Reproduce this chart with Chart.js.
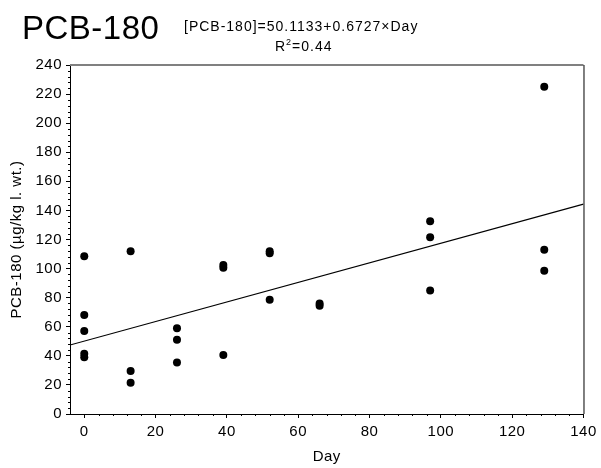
<!DOCTYPE html>
<html>
<head>
<meta charset="utf-8">
<title>PCB-180</title>
<script src="https://cdn.jsdelivr.net/npm/chart.js@4.4.1/dist/chart.umd.min.js"></script>
<style>
    html, body { margin: 0; padding: 0; background: #fff; }
    #chart { display: block; }
</style>
</head>
<body>
<canvas id="chart" width="601" height="468"></canvas>
<script>
"use strict";

/* data */
var days = [0, 0, 0, 0, 0, 13, 13, 13, 26, 26, 26, 39, 39, 39, 52, 52, 52, 66, 66, 97, 97, 97, 129, 129, 129];
var pcb180 = [108.5, 68, 57, 41.5, 39, 112, 29.5, 21.5, 59, 51, 35.5, 102.5, 100.5, 40.5, 112, 110.5, 78.5, 76, 74.5, 132.5, 121.5, 85, 225, 113, 98.5];

/* regression from the figure caption */
var fitIntercept = 50.1133;
var fitSlope = 0.6727;
var fitDays = [-4, 140];

var xTicks = [0, 20, 40, 60, 80, 100, 120, 140];
var yTicks = [0, 20, 40, 60, 80, 100, 120, 140, 160, 180, 200, 220, 240];

var FONT = '"Liberation Sans", Arial, sans-serif';
Chart.defaults.font.family = FONT;
Chart.defaults.color = '#000';

var points = days.map(function (d, i) {
    return { x: d, y: pcb180[i] };
});
var fitLine = fitDays.map(function (d) {
    return { x: d, y: fitIntercept + fitSlope * d };
});

/* slightly wider text spacing like the original export */
var spacingPlugin = {
    id: 'spacing',
    beforeDraw: function (chart) {
        chart.ctx.letterSpacing = '0.5px';
    }
};

/* frame, minor ticks and header text */
var decorPlugin = {
    id: 'decor',
    afterDraw: function (chart) {
        var ctx = chart.ctx;
        var a = chart.chartArea;
        var xs = chart.scales.x;
        var ys = chart.scales.y;
        ctx.save();

        // top and right frame
        ctx.strokeStyle = '#808080';
        ctx.lineWidth = 2;
        ctx.beginPath();
        ctx.moveTo(a.left, a.top);
        ctx.lineTo(a.right, a.top);
        ctx.stroke();
        ctx.strokeStyle = '#000';
        ctx.lineWidth = 1;
        ctx.beginPath();
        ctx.moveTo(a.right + 0.5, a.top);
        ctx.lineTo(a.right + 0.5, a.bottom);
        ctx.stroke();

        // minor ticks
        ctx.beginPath();
        for (var v = 0; v < 140; v += 4) {
            if (v % 20 === 0) continue;
            var px = Math.round(xs.getPixelForValue(v)) + 0.5;
            ctx.moveTo(px, a.bottom);
            ctx.lineTo(px, a.bottom + 2);
        }
        for (var w = 0; w < 240; w += 4) {
            if (w % 20 === 0) continue;
            var py = Math.round(ys.getPixelForValue(w)) + 0.5;
            ctx.moveTo(a.left + 1, py);
            ctx.lineTo(a.left - 2, py);
        }
        ctx.stroke();

        // header
        ctx.fillStyle = '#000';
        ctx.textBaseline = 'alphabetic';
        ctx.textAlign = 'left';
        ctx.letterSpacing = '0.5px';
        ctx.font = '33px ' + FONT;
        ctx.fillText('PCB-180', 22, 39);

        ctx.letterSpacing = '1px';
        ctx.font = '14px ' + FONT;
        ctx.fillText('[PCB-180]=' + fitIntercept + '+' + fitSlope + '\u00d7Day', 184, 31);

        var rx = 275;
        ctx.fillText('R', rx, 51);
        rx += ctx.measureText('R').width;
        ctx.font = '9px ' + FONT;
        ctx.fillText('2', rx, 45);
        rx += ctx.measureText('2').width;
        ctx.font = '14px ' + FONT;
        ctx.fillText('=0.44', rx, 51);

        ctx.restore();
    }
};

var config = {
    type: 'scatter',
    data: {
        datasets: [{
            label: 'PCB-180',
            data: points,
            pointRadius: 4,
            pointHoverRadius: 4,
            backgroundColor: '#000',
            borderWidth: 0
        },
        {
            type: 'line',
            label: 'fit',
            data: fitLine,
            borderColor: '#000',
            borderWidth: 1.2,
            pointRadius: 0,
            fill: false,
            tension: 0
        }]
    },
    options: {
        responsive: false,
        animation: false,
        events: [],
        layout: {
            padding: { top: 65, right: 14, left: 0, bottom: 0 }
        },
        plugins: {
            legend: { display: false },
            tooltip: { enabled: false }
        },
        scales: {
            x: {
                type: 'linear',
                min: -4,
                max: 140,
                afterBuildTicks: function (s) {
                    s.ticks = xTicks.map(function (v) { return { value: v }; });
                },
                afterFit: function (s) { s.height = 54; },
                grid: { drawOnChartArea: false, drawTicks: true, tickLength: 4, color: '#000' },
                border: { display: true, color: '#000', width: 1 },
                ticks: { color: '#000', font: { size: 15 }, padding: 5, maxRotation: 0, autoSkip: false },
                title: { display: true, text: 'Day', color: '#000', font: { size: 15 }, padding: { top: 0, bottom: 2 } }
            },
            y: {
                min: 0,
                max: 240,
                afterBuildTicks: function (s) {
                    s.ticks = yTicks.map(function (v) { return { value: v }; });
                },
                afterFit: function (s) { s.width = 70; },
                grid: { drawOnChartArea: false, drawTicks: true, tickLength: 4, color: '#000' },
                border: { display: true, color: '#000', width: 1 },
                ticks: { color: '#000', font: { size: 15 }, padding: 4, autoSkip: false },
                title: { display: true, text: 'PCB-180 (\u00b5g/kg l. wt.)', color: '#000', font: { size: 15 }, padding: { top: 8, bottom: 0 } }
            }
        }
    },
    plugins: [spacingPlugin, decorPlugin]
};

new Chart(document.getElementById('chart').getContext('2d'), config);
</script>
</body>
</html>
